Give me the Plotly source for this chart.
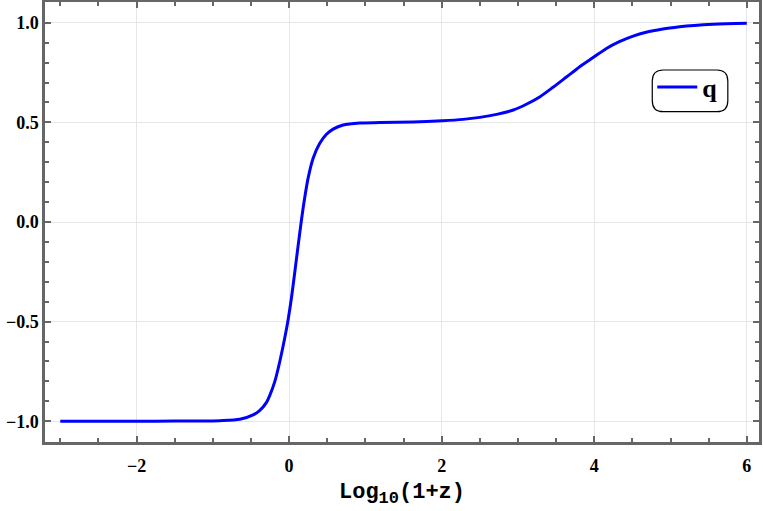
import plotly.graph_objects as go

# Data
log_1pz = [-3.0, -2.5, -2.0, -1.5, -1.0, -0.908, -0.646, -0.472, -0.384, -0.296, -0.253,
           -0.187, -0.122, -0.056, -0.013, 0.031, 0.075, 0.118, 0.162, 0.206, 0.249,
           0.315, 0.402, 0.490, 0.577, 0.708, 0.927, 1.19, 1.625, 2.005, 2.28, 2.50,
           2.72, 2.94, 3.11, 3.29, 3.46, 3.64, 3.81, 4.00, 4.16, 4.33, 4.51, 4.68,
           4.90, 5.12, 5.56, 6.0]
q_vals = [-1.0, -1.0, -1.0, -0.999, -0.998, -0.997, -0.990, -0.968, -0.945, -0.905, -0.870,
          -0.800, -0.700, -0.580, -0.490, -0.380, -0.250, -0.120, 0.010, 0.125, 0.220,
          0.320, 0.395, 0.440, 0.466, 0.487, 0.497, 0.499, 0.502, 0.508, 0.515, 0.525,
          0.540, 0.562, 0.591, 0.629, 0.676, 0.729, 0.779, 0.829, 0.871, 0.905, 0.933, 0.952,
          0.968, 0.980, 0.992, 0.997]
x_ticks = [-2, 0, 2, 4, 6]
y_ticks = [-1.0, -0.5, 0.0, 0.5, 1.0]

W, H = 763, 511
ML, MR, MT, MB = 45, 3.5, 2, 69
PW, PH = W - ML - MR, H - MT - MB

frame = "#666666"
tickfont = dict(family="Liberation Serif", size=18, color="black", weight="bold")

fig = go.Figure()
fig.add_trace(go.Scatter(x=log_1pz, y=q_vals, mode="lines", name="q",
                         line=dict(color="#0000ff", width=3, shape="spline", smoothing=0.8)))

axis_common = dict(showline=True, linewidth=2.5, linecolor=frame, mirror="allticks",
                   ticks="inside", ticklen=6, tickwidth=2, tickcolor=frame,
                   showgrid=True, gridcolor="#e6e6e6", gridwidth=1, zeroline=False,
                   tickfont=tickfont, automargin=False)

fig.update_xaxes(range=[-3.2, 6.16], tickvals=x_ticks, ticklabelstandoff=6,
                 minor=dict(dtick=0.5, tick0=0, ticklen=4, tickwidth=2, tickcolor=frame,
                            ticks="inside", showgrid=False),
                 title=dict(text="Log<sub><span style='font-size:17px'>10</span></sub>(1+z)",
                            font=dict(family="Liberation Mono", size=22, color="black", weight="bold"),
                            standoff=8),
                 **axis_common)
fig.update_yaxes(range=[-1.104, 1.104], tickvals=y_ticks, tickformat=".1f",
                 minor=dict(dtick=0.1, tick0=0, ticklen=4, tickwidth=2, tickcolor=frame,
                            ticks="inside", showgrid=False),
                 **axis_common)

# Rounded legend frame (pixel -> paper coordinates)
def px2paper(px, py):
    return (px - ML) / PW, (H - MB - py) / PH

x0, y0 = px2paper(652.7, 111.7)
x1, y1 = px2paper(728.3, 70)
rx, ry = 11 / PW, 11 / PH
path = (f"M {x0+rx},{y0} L {x1-rx},{y0} Q {x1},{y0} {x1},{y0+ry} "
        f"L {x1},{y1-ry} Q {x1},{y1} {x1-rx},{y1} L {x0+rx},{y1} Q {x0},{y1} {x0},{y1-ry} "
        f"L {x0},{y0+ry} Q {x0},{y0} {x0+rx},{y0} Z")
fig.add_shape(type="path", path=path, xref="paper", yref="paper",
              line=dict(color="black", width=1.2), fillcolor="white", layer="above")

lx, ly = px2paper(652.7, 87)
fig.update_layout(
    width=W, height=H,
    margin=dict(l=ML, r=MR, t=MT, b=MB),
    paper_bgcolor="white", plot_bgcolor="white",
    showlegend=True,
    legend=dict(x=lx, y=ly, xanchor="left", yanchor="middle", itemwidth=40,
                bgcolor="rgba(0,0,0,0)", borderwidth=0,
                font=dict(family="Liberation Serif", size=26, color="black", weight="bold")),
)

fig.write_html("out.html", config={"displayModeBar": False},
               post_script="document.body.style.margin='0';")
